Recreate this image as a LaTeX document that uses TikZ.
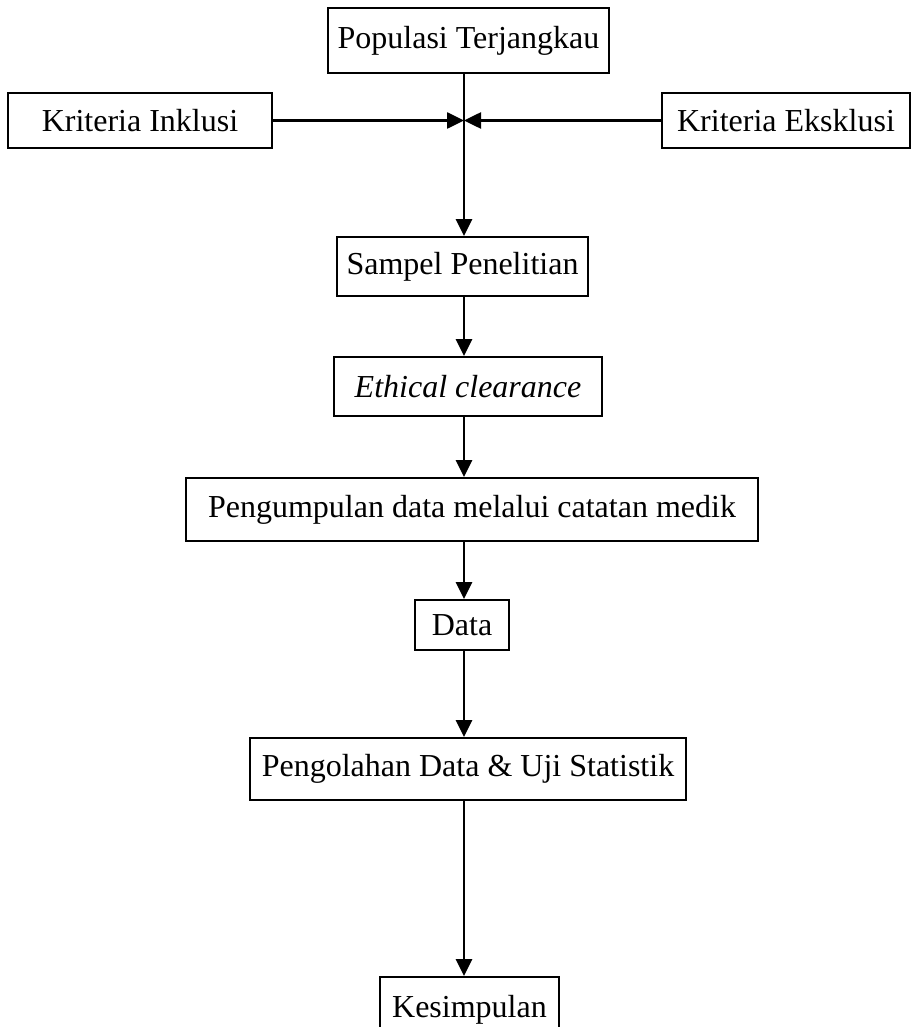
\documentclass[tikz,border=0pt]{standalone}
\usepackage{fontspec}
\setmainfont{Liberation Serif}
\usetikzlibrary{arrows.meta}
\begin{document}
\begin{tikzpicture}[x=1pt,y=-1pt]
	\useasboundingbox (0,0) rectangle (912,1027);
	\begin{scope}[every node/.style={rectangle,draw,line width=1.8pt,inner sep=0pt,font=\fontsize{32}{38}\selectfont}]
	\node[minimum width=281,minimum height=65] (pop) at (468.5,40.5) {Populasi Terjangkau};
	\node[minimum width=264,minimum height=55] (inkl) at (140,120.5) {Kriteria Inklusi};
	\node[minimum width=248,minimum height=55] (eksk) at (786,120.5) {Kriteria Eksklusi};
	\node[minimum width=251,minimum height=59] (sampel) at (462.5,266.5) {Sampel Penelitian};
	\node[minimum width=268,minimum height=59] (etik) at (468,386.5) {\itshape Ethical clearance};
	\node[minimum width=572,minimum height=63] (kumpul) at (472,509.5) {Pengumpulan data melalui catatan medik};
	\node[minimum width=94,minimum height=50] (data) at (462,625) {Data};
	\node[minimum width=436,minimum height=62] (olah) at (468,769) {Pengolahan Data \& Uji Statistik};
	\node[minimum width=179,minimum height=66] (simpul) at (469.5,1010) {Kesimpulan};
	\end{scope}
	\coordinate (hub) at (464,120.5);
	\begin{scope}[every edge/.style={draw=black,line width=2.6pt,-{Triangle[length=17pt,width=16pt]}}]
	\path (inkl.east) edge (hub);
	\path (eksk.west) edge (hub);
	\path (pop.south -| hub) edge (sampel.north -| hub);
	\path (sampel.south -| hub) edge (etik.north -| hub);
	\path (etik.south -| hub) edge (kumpul.north -| hub);
	\path (kumpul.south -| hub) edge (data.north -| hub);
	\path (data.south -| hub) edge (olah.north -| hub);
	\path (olah.south -| hub) edge (simpul.north -| hub);
	\end{scope}
\end{tikzpicture}
\end{document}
